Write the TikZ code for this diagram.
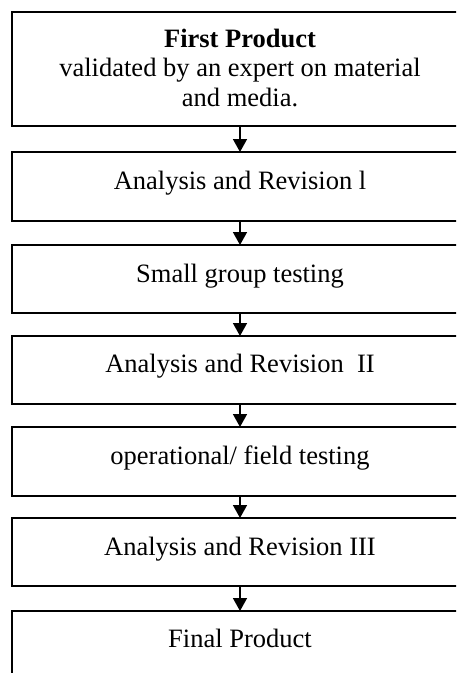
\documentclass[tikz,border=0pt]{standalone}
\usepackage{fontspec}
\setmainfont{Liberation Serif}
\usetikzlibrary{arrows.meta}
\begin{document}
\begin{tikzpicture}[x=1pt,y=-1pt,
  stepbox/.style={draw=black,line width=1.7pt},
  lbl/.style={anchor=base,inner sep=0pt,font=\fontsize{26.5}{29.7}\selectfont,align=center},
  conn/.style={line width=1.5pt,-{Triangle[length=13pt,width=14pt]}}]
\useasboundingbox (0,0) rectangle (456,673);
\begin{scope}
\clip (0,0) rectangle (456,673);
% boxes
\draw[stepbox] (12,12) rectangle (468,126);
\draw[stepbox] (12,152) rectangle (468,221);
\draw[stepbox] (12,245) rectangle (468,313);
\draw[stepbox] (12,336) rectangle (468,404);
\draw[stepbox] (12,427) rectangle (468,496);
\draw[stepbox] (12,518) rectangle (468,586);
\draw[stepbox] (12,690) -- (12,611) -- (468,611) -- (468,690);
% anchors for connectors
\coordinate (b1) at (240,126);
\coordinate (t2) at (240,152);
\coordinate (b2) at (240,221);
\coordinate (t3) at (240,245);
\coordinate (b3) at (240,313);
\coordinate (t4) at (240,336);
\coordinate (b4) at (240,404);
\coordinate (t5) at (240,427);
\coordinate (b5) at (240,496);
\coordinate (t6) at (240,518);
\coordinate (b6) at (240,586);
\coordinate (t7) at (240,611);
\end{scope}
% texts
\node[lbl] (n1a) at (240,47) {\textbf{First Product}};
\node[lbl] (n1b) at (240,76.5) {validated by an expert on material};
\node[lbl] (n1c) at (240,106) {and media.};
\node[lbl] (n2) at (240,189) {Analysis and Revision l};
\node[lbl] (n3) at (240,282) {Small group testing};
\node[lbl] (n4) at (240,372) {Analysis and Revision\ \ II};
\node[lbl] (n5) at (240,464) {operational/ field testing};
\node[lbl] (n6) at (240,555) {Analysis and Revision III};
\node[lbl] (n7) at (240,647) {Final Product};
% connectors
\draw[conn] (b1) -- (t2);
\draw[conn] (b2) -- (t3);
\draw[conn] (b3) -- (t4);
\draw[conn] (b4) -- (t5);
\draw[conn] (b5) -- (t6);
\draw[conn] (b6) -- (t7);
\end{tikzpicture}
\end{document}
